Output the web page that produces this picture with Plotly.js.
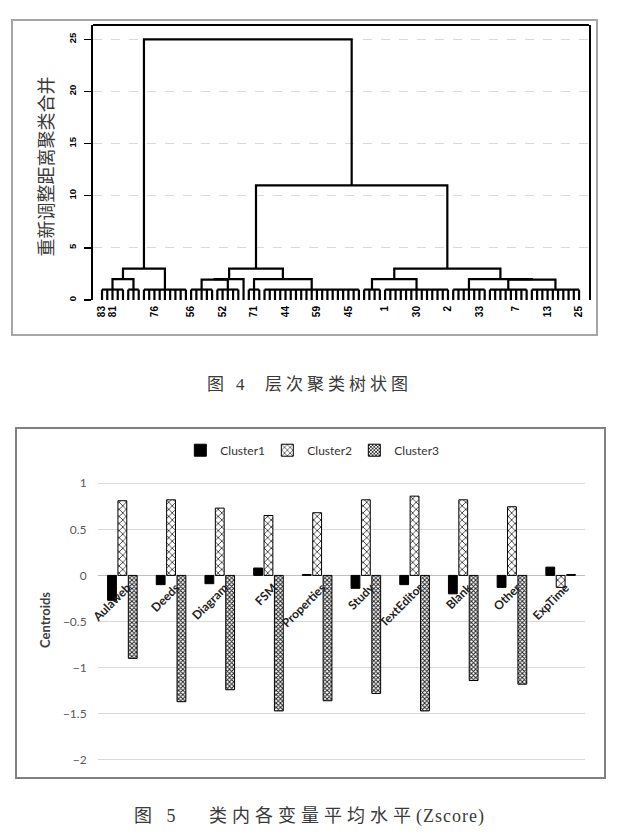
<!DOCTYPE html>
<html>
<head>
<meta charset="utf-8">
<script src="https://cdn.plot.ly/plotly-3.0.1.min.js"></script>
<style>
  body { margin: 0; background: #fff; width: 619px; height: 834px; position: relative; overflow: hidden; }
  .box { position: absolute; box-sizing: border-box; }
  #box1 { left: 11px; top: 19px; width: 587px; height: 317px; border: 2px solid #a6a6a6; }
  #box2 { left: 15px; top: 427px; width: 591px; height: 352px; border: 2px solid #808080; }
  .cap { position: absolute; left: 0; width: 619px; text-align: center; color: #3a3a3a;
         font-family: "Liberation Serif", "Noto Sans CJK SC", serif; font-size: 17px; letter-spacing: 4px; }
</style>
</head>
<body>
<div class="box" id="box1"><div id="tree"></div></div>
<div class="cap" style="top:370px;">图 4&nbsp;&nbsp;层次聚类树状图</div>
<div class="box" id="box2"><div id="bars"></div></div>
<div class="cap" style="top:801px; font-size:18px; letter-spacing:5px;">图 5&nbsp;&nbsp;&nbsp;类内各变量平均水平<span style="letter-spacing:1px;">(Zscore)</span></div>
<script>
// ---- dendrogram (Fig. 4) ----
// leaves in each bottom group, left to right (each group joins at distance ~1)
var combSizes = [5, 3, 9, 5, 5, 1, 3, 19, 4, 13, 7, 8, 10];
var combHeight = 1;
// merges: [child, child, distance]; ids 0-12 are the groups above, new ids follow in order
var merges = [
    [0, 1, 2.0],     // 13
    [13, 2, 3.0],    // 14
    [3, 4, 1.95],    // 15
    [15, 5, 2.0],    // 16
    [6, 7, 2.0],     // 17
    [16, 17, 3.0],   // 18
    [8, 9, 2.0],     // 19
    [11, 12, 1.95],  // 20
    [10, 20, 2.0],   // 21
    [19, 21, 3.0],   // 22
    [18, 22, 11.0],  // 23
    [14, 23, 25.0]   // 24
];
var leafTickPos = [0, 2, 10, 17, 23, 29, 35, 41, 47, 54, 60, 66, 72, 79, 85, 91];
var leafTickText = ['83', '81', '76', '56', '52', '71', '44', '59', '45', '1', '30', '2', '33', '7', '13', '25'];
var distTicks = [0, 5, 10, 15, 20, 25];

// ---- centroids (Fig. 5) ----
var variables = ['Aulaweb', 'Deeds', 'Diagram', 'FSM', 'Properties', 'Study', 'TextEditor', 'Blank', 'Other', 'ExpTime'];
var cluster1 = [-0.27, -0.10, -0.09, 0.08, 0.01, -0.14, -0.10, -0.20, -0.13, 0.09];
var cluster2 = [0.81, 0.82, 0.73, 0.65, 0.68, 0.82, 0.86, 0.82, 0.745, -0.13];
var cluster3 = [-0.90, -1.37, -1.24, -1.47, -1.36, -1.28, -1.47, -1.14, -1.18, 0.01];
var centroidTicks = [1, 0.5, 0, -0.5, -1, -1.5, -2];

// build the dendrogram segments
var combStart = [];
var pos = 0;
combSizes.forEach(function (n) { combStart.push(pos); pos += n; });
var nodeX = [], nodeY = [];
var lx = [], ly = [];
combSizes.forEach(function (n, i) {
    var a = combStart[i], b = a + n - 1;
    if (n === 1) { nodeX.push(a); nodeY.push(0); return; }
    for (var k = a; k <= b; k++) { lx.push(k, k, null); ly.push(0, combHeight, null); }
    lx.push(a, b, null); ly.push(combHeight, combHeight, null);
    nodeX.push((a + b) / 2); nodeY.push(combHeight);
});
merges.forEach(function (m) {
    var x1 = nodeX[m[0]], x2 = nodeX[m[1]], h = m[2];
    lx.push(x1, x1, x2, x2, null);
    ly.push(nodeY[m[0]], h, h, nodeY[m[1]], null);
    nodeX.push((x1 + x2) / 2); nodeY.push(h);
});

var treeTrace = {
    x: lx, y: ly, mode: 'lines', type: 'scatter',
    line: { color: '#000', width: 2.2 },
    hoverinfo: 'skip', showlegend: false
};

var treeLayout = {
    width: 583, height: 313,
    margin: { l: 80, r: 7, t: 4, b: 34 },
    paper_bgcolor: '#fff', plot_bgcolor: '#fff',
    showlegend: false,
    xaxis: {
        range: [-1.72, 92.9], showgrid: false, zeroline: false, showline: false,
        tickmode: 'array', tickvals: leafTickPos, ticktext: leafTickText,
        tickangle: -90, ticks: '', ticklabelstandoff: 3,
        tickfont: { family: 'Liberation Sans', size: 10, color: '#000', weight: 'bold' }
    },
    yaxis: {
        range: [0, 26.37], zeroline: false,
        showline: true, linecolor: '#000', linewidth: 2, mirror: true,
        showgrid: true, gridcolor: '#d9d9d9', griddash: 'dash', gridwidth: 1,
        tickmode: 'array', tickvals: distTicks, tickangle: -90,
        ticks: 'outside', ticklen: 7, tickwidth: 1.5, tickcolor: '#000', ticklabelstandoff: 4,
        tickfont: { family: 'Liberation Sans', size: 9.5, color: '#000', weight: 'bold' }
    },
    shapes: [{ type: 'line', xref: 'paper', yref: 'paper', x0: 0, x1: 1, y0: 1, y1: 1,
               line: { color: '#000', width: 2 } }],
    annotations: [{
        text: '重新调整距离聚类合并', xref: 'paper', yref: 'paper',
        x: -0.097, y: 0.485, xanchor: 'center', yanchor: 'middle', textangle: -90, showarrow: false,
        font: { family: 'Noto Sans CJK SC', size: 18, color: '#3a3a3a' }
    }]
};

Plotly.newPlot('tree', [treeTrace], treeLayout, { staticPlot: true });

// bar chart
var barFont = { family: 'Lato, Open Sans', size: 12, color: '#404040' };
var traces = [
    {
        name: 'Cluster1', x: variables, y: cluster1, type: 'bar',
        marker: { color: '#000', line: { color: '#000', width: 1 } }
    },
    {
        name: 'Cluster2', x: variables, y: cluster2, type: 'bar',
        marker: { color: '#fff', line: { color: '#000', width: 1 },
                  pattern: { shape: 'x', size: 5, solidity: 0.25, fgcolor: '#000', bgcolor: '#fff' } }
    },
    {
        name: 'Cluster3', x: variables, y: cluster3, type: 'bar',
        marker: { color: '#fff', line: { color: '#000', width: 1 },
                  pattern: { shape: 'x', size: 3, solidity: 0.55, fgcolor: '#222', bgcolor: '#fff' } }
    }
];

var barLayout = {
    width: 587, height: 348,
    margin: { l: 81, r: 19, t: 44, b: 8 },
    paper_bgcolor: '#fff', plot_bgcolor: '#fff',
    barmode: 'group', bargap: 0.36, bargroupgap: 0.15,
    font: barFont,
    legend: { orientation: 'h', x: 0.437, xanchor: 'center', y: 1.077, yanchor: 'middle',
              font: { family: 'Lato, Open Sans', size: 12, color: '#333' },
              itemwidth: 30, entrywidth: 42, entrywidthmode: 'pixels' },
    xaxis: {
        anchor: 'free', position: 0.656, showgrid: false, zeroline: false, showline: false,
        tickangle: -45, ticks: '', ticklabelshift: 5, ticklabelstandoff: 2,
        tickfont: { family: 'Lato, Open Sans', size: 12, color: '#222', weight: 'bold' }
    },
    yaxis: {
        range: [-2.1, 1.1], tickmode: 'array', tickvals: centroidTicks,
        showgrid: true, gridcolor: '#d9d9d9', gridwidth: 1,
        zeroline: true, zerolinecolor: '#bfbfbf', zerolinewidth: 1,
        ticks: 'outside', ticklen: 8, tickcolor: 'rgba(0,0,0,0)',
        tickfont: { family: 'Lato, Open Sans', size: 12, color: '#595959' }
    },
    annotations: [{
        text: 'Centroids', xref: 'paper', yref: 'paper', x: -0.109, y: 0.505,
        xanchor: 'center', yanchor: 'middle', textangle: -90, showarrow: false,
        font: { family: 'Lato, Open Sans', size: 13, color: '#404040', weight: 'bold' }
    }]
};

Plotly.newPlot('bars', traces, barLayout, { staticPlot: true });
</script>
</body>
</html>
